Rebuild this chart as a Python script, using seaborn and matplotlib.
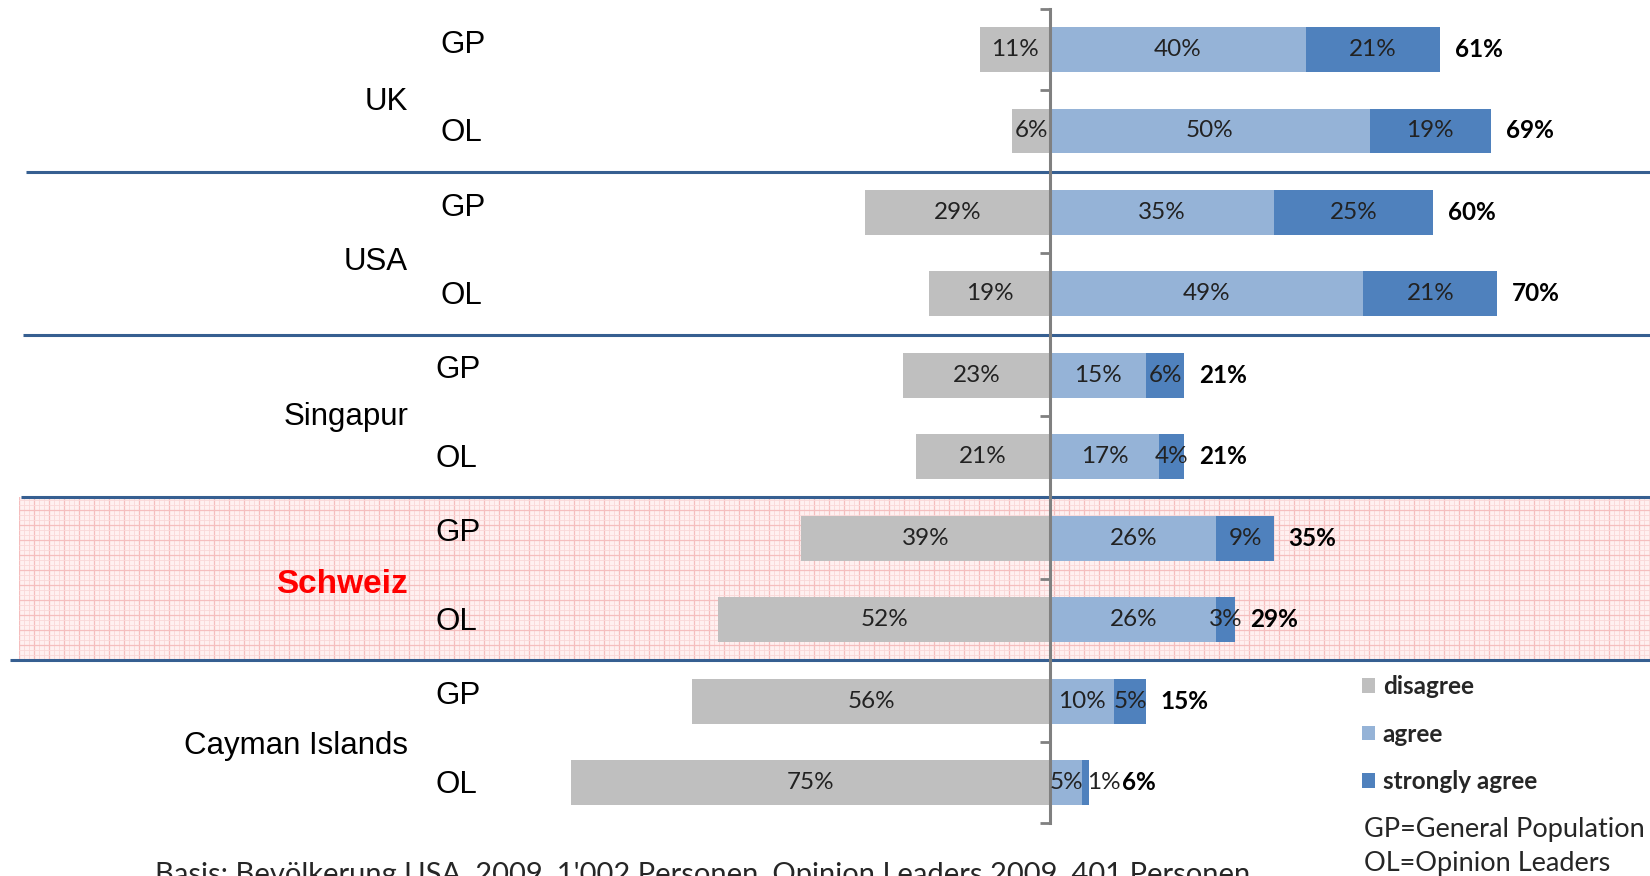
import numpy as np
import pandas as pd
import matplotlib
matplotlib.use("Agg")
import matplotlib.pyplot as plt
from matplotlib.patches import Patch
from matplotlib.ticker import MultipleLocator
import seaborn as sns

# data
countries = ["UK", "USA", "Singapur", "Schweiz", "Cayman Islands"]
groups = ["GP", "OL"]
disagree = [11, 6, 29, 19, 23, 21, 39, 52, 56, 75]
agree = [40, 50, 35, 49, 15, 17, 26, 26, 10, 5]
strongly_agree = [21, 19, 25, 21, 6, 4, 9, 3, 5, 1]
highlight = "Schweiz"
legend_labels = ["disagree", "agree", "strongly agree"]
colors = ["#BFBFBF", "#95B3D7", "#4F81BD"]
footnote = "Basis: Bevölkerung USA, 2009, 1'002 Personen, Opinion Leaders 2009, 401 Personen"
abbrev = ["GP=General Population", "OL=Opinion Leaders"]

rows = [f"{c}|{g}" for c in countries for g in groups]
df = pd.DataFrame({
    "row": rows,
    "disagree": disagree,
    "agree": agree,
    "strong": strongly_agree,
})
df["neg"] = -df["disagree"]
df["total"] = df["agree"] + df["strong"]

sns.set_style("white")
plt.rcParams["font.family"] = ["Liberation Sans", "DejaVu Sans"]
lato = ["Lato", "DejaVu Sans"]

fig = plt.figure(figsize=(16.5, 8.76), dpi=100)
ax = fig.add_axes([0, 0, 1, 1])
ax.set_facecolor("none")
ax.set_zorder(2)

bw = 0.55
sns.barplot(data=df, y="row", x="total", order=rows, orient="h", color=colors[2],
            saturation=1, width=bw, errorbar=None, ax=ax, zorder=3)
sns.barplot(data=df, y="row", x="agree", order=rows, orient="h", color=colors[1],
            saturation=1, width=bw, errorbar=None, ax=ax, zorder=3)
sns.barplot(data=df, y="row", x="neg", order=rows, orient="h", color=colors[0],
            saturation=1, width=bw, errorbar=None, ax=ax, zorder=3)
for p in ax.patches:
    p.set_linewidth(0)

ax.set_xlim(-164.4, 93.9)
ax.set_ylim(10.147, -0.608)
ax.set_xlabel("")
ax.set_ylabel("")
ax.set_xticks([])

# zero axis with ticks at row boundaries
for s in ["top", "right", "bottom"]:
    ax.spines[s].set_visible(False)
ax.spines["left"].set_position(("data", 0))
ax.spines["left"].set_bounds(-0.5, len(rows) - 0.5)
ax.spines["left"].set_color("#808080")
ax.spines["left"].set_linewidth(2.2)
ax.spines["left"].set_zorder(5)
ax.set_yticks(np.arange(-0.5, len(rows), 1))
ax.set_yticklabels([])
ax.tick_params(axis="y", direction="out", length=7.5, width=2.0, color="#808080", left=True)

# segment labels
lab_font = dict(family=lato, fontsize=17.5, color="#222222", va="center", zorder=6)
for i, r in df.iterrows():
    ax.text(-r["disagree"] / 2, i, f"{r['disagree']}%", ha="center", **lab_font)
    ax.text(r["agree"] / 2, i, f"{r['agree']}%", ha="center", **lab_font)
    total_x = r["total"] + 2.3
    if r["strong"] < 2:
        # too thin for a centred label: sits just past the bar end
        ax.text(r["total"] - 0.2, i, f"{r['strong']}%", ha="left", **lab_font)
        total_x = r["total"] + 5.2
    else:
        ax.text(r["agree"] + r["strong"] / 2, i, f"{r['strong']}%", ha="center", **lab_font)
    ax.text(total_x, i, f"{r['total']}%", family=lato, fontsize=17.5,
            fontweight="bold", color="black", ha="left", va="center", zorder=6)

# row and group labels
country_dy = [0.64, 0.61, 0.51, 0.57, 0.55]
for g, c in enumerate(countries):
    if c == highlight:
        ax.text(-100.5, 2 * g + country_dy[g], c, fontsize=24, fontweight="bold",
                color="#FF0000", ha="right", va="center")
    else:
        ax.text(-100.5, 2 * g + country_dy[g], c, fontsize=22.5, color="black",
                ha="right", va="center")
    for k, gr in enumerate(groups):
        ax.text(-95.4 if g < 2 else -96.2, 2 * g + k + (-0.06 if k == 0 else 0.03), gr,
                fontsize=22.5, color="black", ha="left", va="center")

# separator lines between countries
sep_start = [-160.3, -160.8, -161.1, -162.8]
for g, x0 in enumerate(sep_start):
    ax.plot([x0, 94], [2 * g + 1.5] * 2, color="#365F91", lw=2.2, zorder=4,
            solid_capstyle="butt")

# pink grid background behind the highlighted country
hi = countries.index(highlight)
to_fig = ax.transData + fig.transFigure.inverted()
(fx0, fy0) = to_fig.transform((-161.5, 2 * hi + 1.5))
(fx1, fy1) = to_fig.transform((94, 2 * hi - 0.5))
bg = fig.add_axes([fx0, fy0, fx1 - fx0, fy1 - fy0])
bg.set_zorder(0)
bg.set_facecolor("#FFF0F0")
wpx = (fx1 - fx0) * 1650
hpx = (fy1 - fy0) * 876
bg.set_xlim(0, wpx)
bg.set_ylim(0, hpx)
bg.xaxis.set_major_locator(MultipleLocator(15))
bg.yaxis.set_major_locator(MultipleLocator(15))
bg.xaxis.set_minor_locator(MultipleLocator(5))
bg.yaxis.set_minor_locator(MultipleLocator(5))
bg.grid(which="major", color="#F5BEBE", lw=0.9)
bg.grid(which="minor", color="#FAD8D8", lw=0.6)
bg.tick_params(which="both", length=0, labelleft=False, labelbottom=False)
for s in bg.spines.values():
    s.set_visible(False)

# legend
handles = [Patch(facecolor=c, edgecolor="none") for c in colors]
leg = fig.legend(handles, legend_labels, loc="upper left", bbox_to_anchor=(0.8255, 0.229),
                 frameon=False, borderpad=0, borderaxespad=0, labelspacing=1.0,
                 handlelength=0.55, handleheight=0.55, handletextpad=0.3,
                 prop=dict(family=lato, size=17.5, weight="bold"))
for t in leg.get_texts():
    t.set_color("#262626")

fig.text(0.8268, 1 - 830 / 876, abbrev[0], family=lato, fontsize=19.5,
         ha="left", va="center")
fig.text(0.8268, 1 - 864 / 876, abbrev[1], family=lato, fontsize=19.5,
         ha="left", va="center")

fig.text(155 / 1650, 1 - 862 / 876, footnote, family=lato, fontsize=21,
         ha="left", va="top")

fig.savefig("out.png", dpi=100)
